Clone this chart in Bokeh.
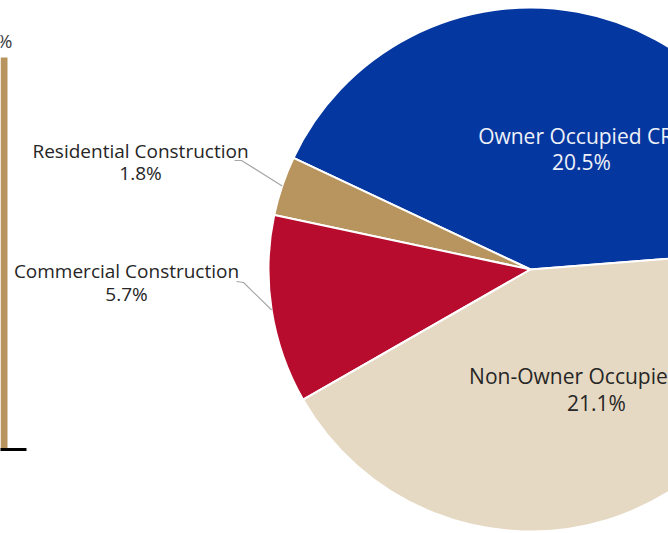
import numpy as np
from bokeh.plotting import figure
from bokeh.models import Range1d, ColumnDataSource
from bokeh.core.properties import value
from bokeh.embed import file_html
from bokeh.resources import INLINE

# ---------------- data ----------------
categories = ["Owner Occupied CRE", "Residential Construction",
              "Commercial Construction", "Non-Owner Occupied CRE"]
shares = [20.5, 1.8, 5.7, 21.1]
share_labels = ["20.5%", "1.8%", "5.7%", "21.1%"]
colors = ["#0537A0", "#B8955E", "#B80C2E", "#E6D9C3"]

bar_category = ["Total CRE"]
bar_values = [49.1]
bar_labels = ["49.1%"]

# ---------------- layout / style ----------------
W, H = 668, 533
FONT = value("Open Sans")
DARK = "#262626"

cx, cy, R = 530.0, 264.0, 262.0          # pie centre / radius (data units)
start_deg = 4.5                           # first slice starts here, anticlockwise

# label anchors: (name x, name y, value x, value y), font size, colour
label_pos = [(581, 398, 581, 372), (140, 383, 140, 361),
             (126, 263, 126, 240), (596, 158, 596, 131)]
label_fs = ["21px", "19px", "19px", "21px"]
label_col = ["#EEF1F8", DARK, DARK, DARK]
# leader-line elbows (only outside labels)
leaders = {1: [(234, 373), (241, 373)], 2: [(236, 252), (243, 251)]}

p = figure(width=W, height=H, output_backend="svg", toolbar_location=None,
           x_range=Range1d(0, 668), y_range=Range1d(0, 533),
           min_border=0, outline_line_color=None, background_fill_color="white",
           border_fill_color="white")
p.axis.visible = False
p.grid.visible = False
p.extra_y_ranges = {"bar": Range1d(-10.52, 56.24)}

# ---------------- pie ----------------
total = sum(shares)
ang = np.cumsum([0] + [s / total * 2 * np.pi for s in shares])
start = ang[:-1] + np.deg2rad(start_deg)
end = ang[1:] + np.deg2rad(start_deg)
src = ColumnDataSource(dict(cat=categories, start=start, end=end, color=colors))
p.wedge(x=cx, y=cy, radius=R, start_angle="start", end_angle="end",
        direction="anticlock", fill_color="color", line_color="white",
        line_width=2, source=src)

# leader lines from slice mid-angle on the rim to the label elbow
mid = (start + end) / 2
for i, pts in leaders.items():
    rx = cx + R * np.cos(mid[i])
    ry = cy + R * np.sin(mid[i])
    xs = [pts[0][0], pts[1][0], rx]
    ys = [pts[0][1], pts[1][1], ry]
    p.line(xs, ys, line_color="#A6A6A6", line_width=1.2)

# labels
for i, (nx, ny, vx, vy) in enumerate(label_pos):
    p.text(x=[nx], y=[ny], text=[categories[i]], text_font=FONT,
           text_font_size=label_fs[i], text_color=label_col[i],
           text_align="center", text_baseline="middle")
    p.text(x=[vx], y=[vy], text=[share_labels[i]], text_font=FONT,
           text_font_size=label_fs[i], text_color=label_col[i],
           text_align="center", text_baseline="middle")

# ---------------- partial bar on the left ----------------
bsrc = ColumnDataSource(dict(x=[-12], top=bar_values, lab=bar_labels, cat=bar_category))
p.vbar(x="x", top="top", bottom=0, width=38, fill_color="#B8955E",
       line_color=None, y_range_name="bar", source=bsrc)
p.segment(x0=-10, y0=0, x1=26, y1=0, line_color="black", line_width=3,
          y_range_name="bar")
p.text(x=[12], y=bar_values, text=bar_labels, text_font=FONT, text_font_size="19px",
       text_color="#404040", text_align="right", text_baseline="middle",
       y_offset=-17, y_range_name="bar")

open("out.html", "w").write(file_html(p, INLINE))
